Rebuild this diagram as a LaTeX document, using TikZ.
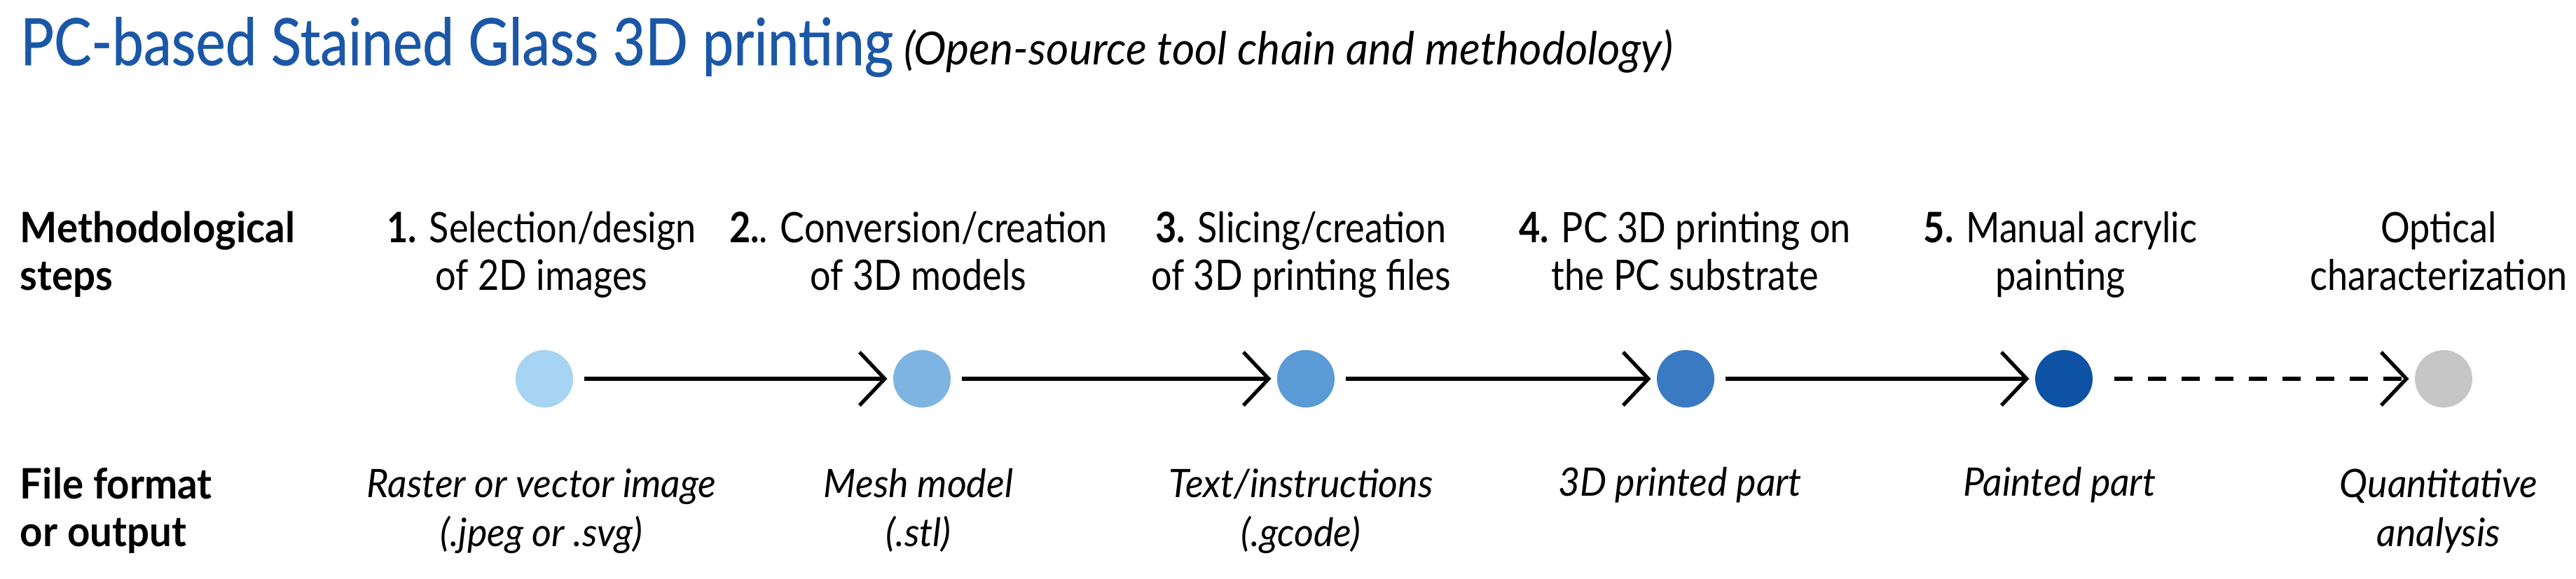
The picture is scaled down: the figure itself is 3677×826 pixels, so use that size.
\documentclass[tikz,border=0pt]{standalone}
\usepackage{fontspec}
\setmainfont{Lato}[FakeStretch=0.87]
\newfontfamily\titlef{Lato}[FakeStretch=0.86,FakeBold=0.6]
\newfontfamily\stepf{Lato}[FakeStretch=0.87]
\newfontfamily\rowf{Lato}[FakeStretch=0.94]
\newfontfamily\itf{Lato}[FakeStretch=0.96]
\usetikzlibrary{arrows.meta}
\definecolor{titleblue}{HTML}{1B57A7}
\definecolor{cA}{HTML}{A6D4F2}
\definecolor{cB}{HTML}{7DB4E2}
\definecolor{cC}{HTML}{5A9AD6}
\definecolor{cD}{HTML}{3A7AC2}
\definecolor{cE}{HTML}{0E52A5}
\definecolor{cF}{HTML}{C6C6C6}
\begin{document}
\begin{tikzpicture}[x=0.2pt,y=-0.2pt,
  dot/.style={circle,draw=none,minimum size=16.4pt,inner sep=0},
  rowlab/.style={anchor=base west,inner sep=0,align=left,font=\rowf\bfseries\fontsize{12}{13.6}\selectfont},
  steplab/.style={anchor=base,inner sep=0,align=center,font=\stepf\fontsize{12}{13.6}\selectfont},
  outlab/.style={anchor=base,inner sep=0,align=center,font=\itf\itshape\fontsize{11.2}{14}\selectfont},
  flow/.style={line width=1.05pt,-{Straight Barb[length=7.2pt,width=15.2pt,line width=1.05pt]},shorten <=3pt,shorten >=1.5pt},
  flowdash/.style={flow,dash pattern=on 5.2pt off 4.4pt,shorten <=6pt}]
\useasboundingbox (0,0) rectangle (3677,826);
\node[anchor=base west,inner sep=0,text=titleblue,font=\titlef\fontsize{18.6}{20}\selectfont] (title) at (28,93) {PC-based Stained Glass 3D printing};
\node[anchor=base west,inner sep=0,font=\itf\itshape\fontsize{13}{15}\selectfont] (subtitle) at (1289,93) {(Open-source tool chain and methodology)};
\node[rowlab] (rowsteps) at (28,414) {Methodological\\steps};
\node[rowlab] (rowout) at (28,780) {File format\\or output};
\node[steplab] (s1) at (773,414) {\textbf{1.} Selection/design\\of 2D images};
\node[steplab] (s2) at (1311,414) {\textbf{2.}. Conversion/creation\\of 3D models};
\node[steplab] (s3) at (1857,414) {\textbf{3.} Slicing/creation\\of 3D printing files};
\node[steplab] (s4) at (2405,414) {\textbf{4.} PC 3D printing on\\the PC substrate};
\node[steplab] (s5) at (2941,414) {\textbf{5.} Manual acrylic\\painting};
\node[steplab] (s6) at (3481,414) {Optical\\characterization};
\node[dot,fill=cA] (d1) at (777,541) {};
\node[dot,fill=cB] (d2) at (1316,541) {};
\node[dot,fill=cC] (d3) at (1864,541) {};
\node[dot,fill=cD] (d4) at (2406,541) {};
\node[dot,fill=cE] (d5) at (2946,541) {};
\node[dot,fill=cF] (d6) at (3488,541) {};
\draw[flow] (d1) -- (d2);
\draw[flow] (d2) -- (d3);
\draw[flow] (d3) -- (d4);
\draw[flow] (d4) -- (d5);
\draw[flowdash] (d5) -- (d6);
\node[outlab] (o1) at (773,780) {Raster or vector image\\(.jpeg or .svg)};
\node[outlab] (o2) at (1311,780) {Mesh model\\(.stl)};
\node[outlab] (o3) at (1857,780) {Text/instructions\\(.gcode)};
\node[outlab] (o4) at (2398,708) {3D printed part};
\node[outlab] (o5) at (2940,708) {Painted part};
\node[outlab] (o6) at (3481,780) {Quantitative\\analysis};
\end{tikzpicture}
\end{document}
